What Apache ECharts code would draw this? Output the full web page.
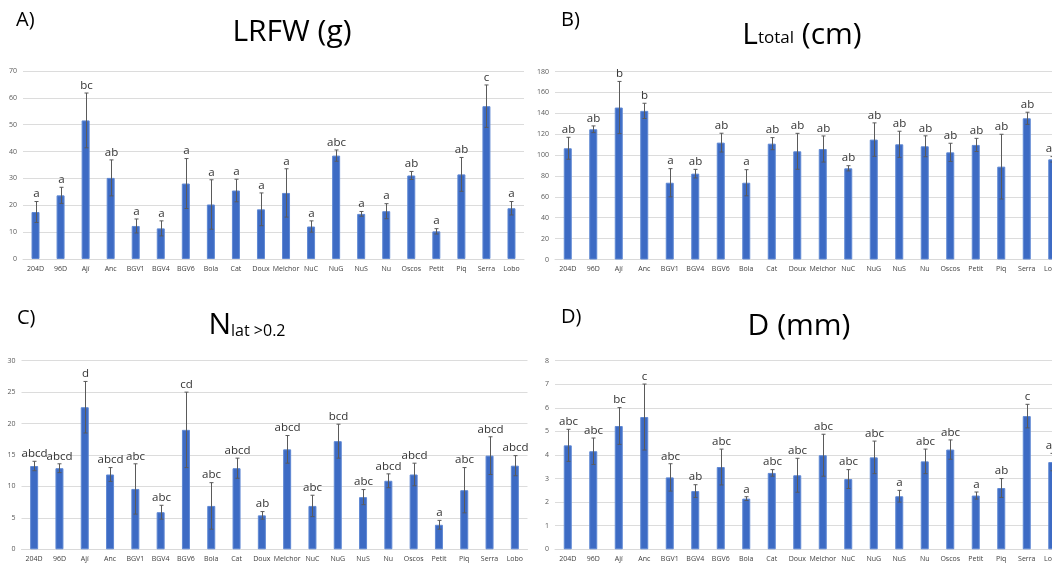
<!DOCTYPE html>
<html>
<head>
<meta charset="utf-8">
<script src="https://cdn.jsdelivr.net/npm/echarts@6/dist/echarts.min.js"></script>
<style>
html,body{margin:0;padding:0;background:#fff;overflow:hidden;}
#chart{width:1052px;height:566px;}
</style>
</head>
<body>
<div id="chart"></div>
<script>
const categories = ['204D','96D','Ají','Anc','BGV1','BGV4','BGV6','Bola','Cat','Doux','Melchor','NuC','NuG','NuS','Nu','Oscos','Petit','Piq','Serra','Lobo'];

// A) LRFW (g)
const lrfwMean = [17.5,23.7,51.6,30.2,12.3,11.4,28.1,20.3,25.5,18.5,24.6,12.1,38.5,16.8,17.8,31.1,10.3,31.5,56.9,18.9];
const lrfwErr  = [3.9,3.0,10.2,6.7,2.6,2.8,9.3,9.2,4.2,6.1,9.0,2.1,2.1,0.9,2.8,1.5,1.0,6.3,7.9,2.5];
const lrfwLetters = ['a','a','bc','ab','a','a','a','a','a','a','a','a','abc','a','a','ab','a','ab','c','a'];

// B) Ltotal (cm)
const ltotMean = [106.5,124.7,145.5,142.3,73.5,82.2,111.9,73.5,110.9,103.6,105.8,87.3,114.8,110.3,108.4,102.6,109.7,88.9,135.2,95.9];
const ltotErr  = [10.5,3.2,25.0,7.3,13.5,4.1,9.0,12.5,5.8,17.2,12.5,2.5,16.0,12.5,10.0,8.7,6.3,31.0,5.8,2.6];
const ltotLetters = ['ab','ab','b','b','a','ab','ab','a','ab','ab','ab','ab','ab','ab','ab','ab','ab','ab','ab','ab'];

// C) Nlat > 0.2
const nlatMean = [13.25,12.9,22.6,11.9,9.6,5.9,19.0,6.9,12.9,5.4,15.9,6.9,17.2,8.3,10.9,11.9,3.9,9.4,14.9,13.3];
const nlatErr  = [0.75,0.7,4.1,1.1,4.0,1.1,6.0,3.7,1.6,0.6,2.2,1.7,2.7,1.2,1.1,1.8,0.7,3.6,3.0,1.6];
const nlatLetters = ['abcd','abcd','d','abcd','abc','abc','cd','abc','abcd','ab','abcd','abc','bcd','abc','abcd','abcd','a','abc','abcd','abcd'];

// D) D (mm)
const dMean = [4.41,4.16,5.23,5.61,3.05,2.47,3.49,2.15,3.24,3.14,3.99,2.98,3.90,2.25,3.73,4.23,2.28,2.60,5.65,3.70];
const dErr  = [0.68,0.56,0.78,1.40,0.58,0.27,0.76,0.08,0.14,0.72,0.89,0.40,0.69,0.25,0.52,0.41,0.15,0.40,0.50,0.37];
const dLetters = ['abc','abc','bc','c','abc','ab','abc','a','abc','abc','abc','abc','abc','a','abc','abc','a','ab','c','ab'];

const yTicks = [
  {min:0, max:70, interval:10},
  {min:0, max:180, interval:20},
  {min:0, max:30, interval:5},
  {min:0, max:8, interval:1}
];

const FONT = '"Open Sans", "Noto Sans", sans-serif';
const BAR = '#3d6bc4';
const ERR = '#5a5a5a';

const grids = [
  {left:23, width:501, top:71, height:188, outerBoundsMode:'none', containLabel:false},
  {left:555, width:510, top:71.5, height:188, outerBoundsMode:'none', containLabel:false},
  {left:21.5, width:506, top:360.7, height:188.6, outerBoundsMode:'none', containLabel:false},
  {left:555, width:510, top:360.7, height:188.6, outerBoundsMode:'none', containLabel:false}
];

const panels = [
  {mean:lrfwMean, err:lrfwErr, letters:lrfwLetters},
  {mean:ltotMean, err:ltotErr, letters:ltotLetters},
  {mean:nlatMean, err:nlatErr, letters:nlatLetters},
  {mean:dMean, err:dErr, letters:dLetters}
];

function makeRender(letters){
  return function(params, api){
    const i = api.value(0), v = api.value(1), e = api.value(2);
    const top = api.coord([i, v + e]);
    const bot = api.coord([i, v - e]);
    const x = Math.round(top[0]) + 0.5;
    const st = {stroke:ERR, lineWidth:1};
    return {type:'group', children:[
      {type:'line', shape:{x1:x, y1:top[1], x2:x, y2:bot[1]}, style:st},
      {type:'line', shape:{x1:x-2, y1:top[1], x2:x+2, y2:top[1]}, style:st},
      {type:'line', shape:{x1:x-2, y1:bot[1], x2:x+2, y2:bot[1]}, style:st},
      {type:'text', x:x, y:top[1]-1.5, style:{text:letters[i], textAlign:'center', textVerticalAlign:'bottom', fontSize:11.5, fontFamily:FONT, fill:'#333'}}
    ]};
  };
}

const xAxis = [], yAxis = [], series = [];
panels.forEach((p, k) => {
  xAxis.push({
    type:'category', gridIndex:k, data:categories,
    axisLine:{show:true, lineStyle:{color:'#d9d9d9'}},
    axisTick:{show:false},
    axisLabel:{interval:0, fontSize:7, color:'#404040', margin:6, fontFamily:FONT, hideOverlap:false}
  });
  yAxis.push({
    type:'value', gridIndex:k, min:yTicks[k].min, max:yTicks[k].max, interval:yTicks[k].interval,
    axisLine:{show:false}, axisTick:{show:false},
    splitLine:{lineStyle:{color:'#dcdcdc', width:1}},
    axisLabel:{fontSize:7, color:'#595959', margin:6, fontFamily:FONT}
  });
  series.push({
    type:'bar', xAxisIndex:k, yAxisIndex:k, data:p.mean, barWidth:8,
    itemStyle:{color:BAR, borderColor:'#5f88d3', borderWidth:1},
    silent:true, z:2
  });
  series.push({
    type:'custom', xAxisIndex:k, yAxisIndex:k, clip:false, z:3, silent:true,
    data:p.mean.map((m, i) => [i, m, p.err[i]]),
    renderItem:makeRender(p.letters)
  });
});

const graphic = [
  {type:'text', x:16, y:20, style:{text:'A)', fontSize:20, fontFamily:FONT, fill:'#000', textVerticalAlign:'middle'}},
  {type:'text', x:561, y:20, style:{text:'B)', fontSize:20, fontFamily:FONT, fill:'#000', textVerticalAlign:'middle'}},
  {type:'text', x:17, y:318, style:{text:'C)', fontSize:20, fontFamily:FONT, fill:'#000', textVerticalAlign:'middle'}},
  {type:'text', x:561, y:317, style:{text:'D)', fontSize:20, fontFamily:FONT, fill:'#000', textVerticalAlign:'middle'}},
  {type:'text', x:292, y:32, style:{text:'LRFW (g)', fontSize:30, fontFamily:FONT, fill:'#000', textAlign:'center', textVerticalAlign:'middle'}},
  {type:'text', x:802, y:32, style:{text:'{b|L}{s|total}{b| (cm)}', textAlign:'center', textVerticalAlign:'middle', fill:'#000',
    rich:{b:{fontSize:30, fontFamily:FONT, verticalAlign:'bottom', lineHeight:36}, s:{fontSize:17, fontFamily:FONT, verticalAlign:'bottom', lineHeight:36, padding:[0,0,3,0]}}}},
  {type:'text', x:247, y:322, style:{text:'{b|N}{s|lat >0.2}', textAlign:'center', textVerticalAlign:'middle', fill:'#000',
    rich:{b:{fontSize:30, fontFamily:FONT, verticalAlign:'bottom', lineHeight:36}, s:{fontSize:16, fontFamily:FONT, verticalAlign:'bottom', lineHeight:36, padding:[0,0,1,0]}}}},
  {type:'text', x:799, y:326, style:{text:'D (mm)', fontSize:30, fontFamily:FONT, fill:'#000', textAlign:'center', textVerticalAlign:'middle'}}
];

const chart = echarts.init(document.getElementById('chart'), null, {renderer:'canvas'});
chart.setOption({
  animation:false,
  backgroundColor:'#fff',
  grid:grids,
  xAxis:xAxis,
  yAxis:yAxis,
  series:series,
  graphic:graphic
});
</script>
</body>
</html>
